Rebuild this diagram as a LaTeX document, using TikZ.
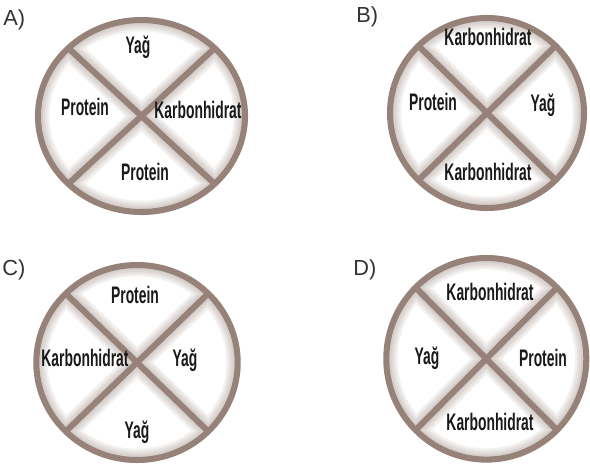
\documentclass[tikz,border=0pt]{standalone}
\usepackage{fontspec}
\setmainfont{Liberation Sans}
\newfontfamily\slicefont[FakeStretch=0.58]{Liberation Sans}
\definecolor{ringbrown}{RGB}{150,130,120}

\begin{document}
\begin{tikzpicture}[x=0.25mm, y=-0.25mm,
    ring/.style={draw=ringbrown, line width=4.3pt},
    glow/.style={draw=ringbrown, opacity=0.11},
    slice/.style={font=\slicefont\bfseries\fontsize{17}{19}\selectfont, text=black!90},
    tag/.style={font=\fontsize{15.5}{17}\selectfont, anchor=west, inner sep=0pt, text=black!80}]
    % Page
    \fill[white] (0,0) rectangle (590,467);
    \useasboundingbox (0,0) rectangle (590,467);

    % Rings and crosses
    \foreach \cx/\cy/\rx/\ry in {141.5/116/103.5/96, 487/113/97/95,
            137/362.5/100.7/97.5, 486.3/358.8/100/100.8} {
        \begin{scope}
            \clip (\cx,\cy) ellipse [x radius=\rx, y radius=\ry];
            \foreach \w in {16pt,13pt,10pt,7pt}
                \draw[glow, line width=\w] (\cx,\cy) ellipse [x radius=\rx, y radius=\ry]
                    (\cx-\rx,\cy-\ry) -- (\cx+\rx,\cy+\ry)
                    (\cx-\rx,\cy+\ry) -- (\cx+\rx,\cy-\ry);
            \draw[ring] (\cx-\rx,\cy-\ry) -- (\cx+\rx,\cy+\ry)
                (\cx-\rx,\cy+\ry) -- (\cx+\rx,\cy-\ry);
        \end{scope}
        \draw[ring] (\cx,\cy) ellipse [x radius=\rx, y radius=\ry];
    }

    % Option letters
    \node[tag] (tagA) at (3,20) {A)};
    \node[tag] (tagB) at (356,17) {B)};
    \node[tag] (tagC) at (2,270) {C)};
    \node[tag] (tagD) at (353,270) {D)};

    % A
    \node[slice] (aTop) at (138,47) {Yağ};
    \node[slice] (aLeft) at (85,107) {Protein};
    \node[slice] (aRight) at (198,110) {Karbonhidrat};
    \node[slice] (aBottom) at (145,172) {Protein};

    % B
    \node[slice] (bTop) at (488,37) {Karbonhidrat};
    \node[slice] (bLeft) at (433,102) {Protein};
    \node[slice] (bRight) at (543,105) {Yağ};
    \node[slice] (bBottom) at (488,172) {Karbonhidrat};

    % C
    \node[slice] (cTop) at (135,295) {Protein};
    \node[slice] (cLeft) at (85,358) {Karbonhidrat};
    \node[slice] (cRight) at (185,360) {Yağ};
    \node[slice] (cBottom) at (137,432) {Yağ};

    % D
    \node[slice] (dTop) at (490,292) {Karbonhidrat};
    \node[slice] (dLeft) at (427,358) {Yağ};
    \node[slice] (dRight) at (543,358) {Protein};
    \node[slice] (dBottom) at (490,422) {Karbonhidrat};
\end{tikzpicture}
\end{document}
